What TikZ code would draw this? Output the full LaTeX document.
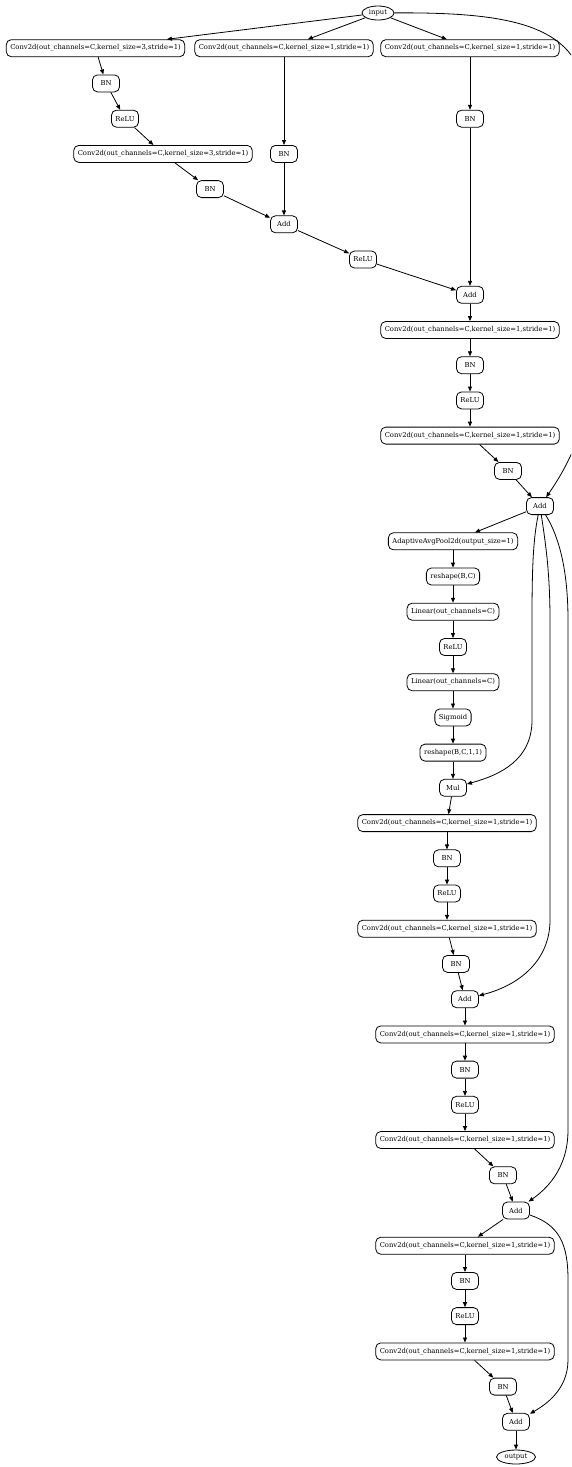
\documentclass[tikz,border=0pt]{standalone}
\usepackage{fontspec}
\setmainfont{DejaVu Serif}
\usetikzlibrary{arrows.meta,shapes.geometric}
\begin{document}
\begin{tikzpicture}[x=1pt,y=-1pt,
    op/.style={draw,rounded corners=5pt,minimum height=17pt,minimum width=27pt,inner xsep=4pt,inner ysep=0pt,line width=0.8pt,font=\fontsize{6.8}{8}\selectfont},
    io/.style={draw,ellipse,minimum height=14pt,minimum width=32pt,inner sep=0pt,line width=0.8pt,font=\fontsize{6.8}{8}\selectfont},
    edge/.style={-{Triangle[length=5pt,width=4pt]},line width=0.8pt}]
    \useasboundingbox (0,0) rectangle (571,1467);
    \clip (0,0) rectangle (571,1467);
    \node[io] (input) at (378,13.0) {input};
    \node[op] (ca1) at (95.5,48.2) {Conv2d(out\_channels=C,kernel\_size=3,stride=1)};
    \node[op] (cb1) at (284,48.2) {Conv2d(out\_channels=C,kernel\_size=1,stride=1)};
    \node[op] (cc1) at (470,48.2) {Conv2d(out\_channels=C,kernel\_size=1,stride=1)};
    \node[op] (bna1) at (106,83.4) {BN};
    \node[op] (rla1) at (125,118.7) {ReLU};
    \node[op] (bnc1) at (470,118.7) {BN};
    \node[op] (ca2) at (163,153.9) {Conv2d(out\_channels=C,kernel\_size=3,stride=1)};
    \node[op] (bnb1) at (284,153.9) {BN};
    \node[op] (bna2) at (210,189.1) {BN};
    \node[op] (add1) at (284,224.3) {Add};
    \node[op] (rl2) at (363,259.5) {ReLU};
    \node[op] (add2) at (470,294.8) {Add};
    \node[op] (c3) at (470,330.0) {Conv2d(out\_channels=C,kernel\_size=1,stride=1)};
    \node[op] (bn3) at (470,365.2) {BN};
    \node[op] (rl3) at (470,400.4) {ReLU};
    \node[op] (c4) at (470,435.6) {Conv2d(out\_channels=C,kernel\_size=1,stride=1)};
    \node[op] (bn4) at (508,470.9) {BN};
    \node[op] (add3) at (540,506.1) {Add};
    \node[op] (pool) at (453,541.3) {AdaptiveAvgPool2d(output\_size=1)};
    \node[op] (rs1) at (453,576.5) {reshape(B,C)};
    \node[op] (lin1) at (453,611.7) {Linear(out\_channels=C)};
    \node[op] (rl4) at (453,647.0) {ReLU};
    \node[op] (lin2) at (453,682.2) {Linear(out\_channels=C)};
    \node[op] (sig) at (453,717.4) {Sigmoid};
    \node[op] (rs2) at (453,752.6) {reshape(B,C,1,1)};
    \node[op] (mul) at (453,787.8) {Mul};
    \node[op] (c5) at (447,823.1) {Conv2d(out\_channels=C,kernel\_size=1,stride=1)};
    \node[op] (bn5) at (447,858.3) {BN};
    \node[op] (rl5) at (447,893.5) {ReLU};
    \node[op] (c6) at (447,928.7) {Conv2d(out\_channels=C,kernel\_size=1,stride=1)};
    \node[op] (bn6) at (456,963.9) {BN};
    \node[op] (add4) at (465,999.2) {Add};
    \node[op] (c7) at (465,1034.4) {Conv2d(out\_channels=C,kernel\_size=1,stride=1)};
    \node[op] (bn7) at (465,1069.6) {BN};
    \node[op] (rl7) at (465,1104.8) {ReLU};
    \node[op] (c8) at (465,1140.0) {Conv2d(out\_channels=C,kernel\_size=1,stride=1)};
    \node[op] (bn8) at (503,1175.3) {BN};
    \node[op] (add5) at (516,1210.5) {Add};
    \node[op] (c9) at (465,1245.7) {Conv2d(out\_channels=C,kernel\_size=1,stride=1)};
    \node[op] (bn9) at (465,1280.9) {BN};
    \node[op] (rl9) at (465,1316.1) {ReLU};
    \node[op] (c10) at (465,1351.4) {Conv2d(out\_channels=C,kernel\_size=1,stride=1)};
    \node[op] (bn10) at (503,1386.6) {BN};
    \node[op] (add6) at (516,1421.8) {Add};
    \node[io,minimum width=39pt] (output) at (516,1457.0) {output};
    \foreach \a/\b in {input/ca1,input/cb1,input/cc1,ca1/bna1,bna1/rla1,rla1/ca2,ca2/bna2,bna2/add1,
        cb1/bnb1,bnb1/add1,add1/rl2,rl2/add2,cc1/bnc1,bnc1/add2,add2/c3,c3/bn3,bn3/rl3,rl3/c4,c4/bn4,bn4/add3,
        add3/pool,pool/rs1,rs1/lin1,lin1/rl4,rl4/lin2,lin2/sig,sig/rs2,rs2/mul,mul/c5,c5/bn5,bn5/rl5,rl5/c6,c6/bn6,bn6/add4,
        add4/c7,c7/bn7,bn7/rl7,rl7/c8,c8/bn8,bn8/add5,add5/c9,c9/bn9,bn9/rl9,rl9/c10,c10/bn10,bn10/add6,add6/output}
        \draw[edge] (\a) -- (\b);
    \draw[edge] (input) .. controls (530,12) and (590,30) .. (588,120) -- (588,380) .. controls (588,430) and (565,470) .. (add3);
    \draw[edge] (add3) .. controls (533,540) and (532,570) .. (532,620) -- (532,720) .. controls (532,760) and (500,775) .. (mul);
    \draw[edge] (add3) .. controls (545,540) and (550,570) .. (550,620) -- (550,920) .. controls (550,960) and (520,985) .. (add4);
    \draw[edge] (add3) .. controls (555,530) and (568,560) .. (568,620) -- (568,1130) .. controls (568,1170) and (545,1190) .. (add5);
    \draw[edge] (add5) .. controls (560,1225) and (568,1245) .. (568,1280) -- (568,1360) .. controls (568,1390) and (545,1405) .. (add6);
\end{tikzpicture}
\end{document}
